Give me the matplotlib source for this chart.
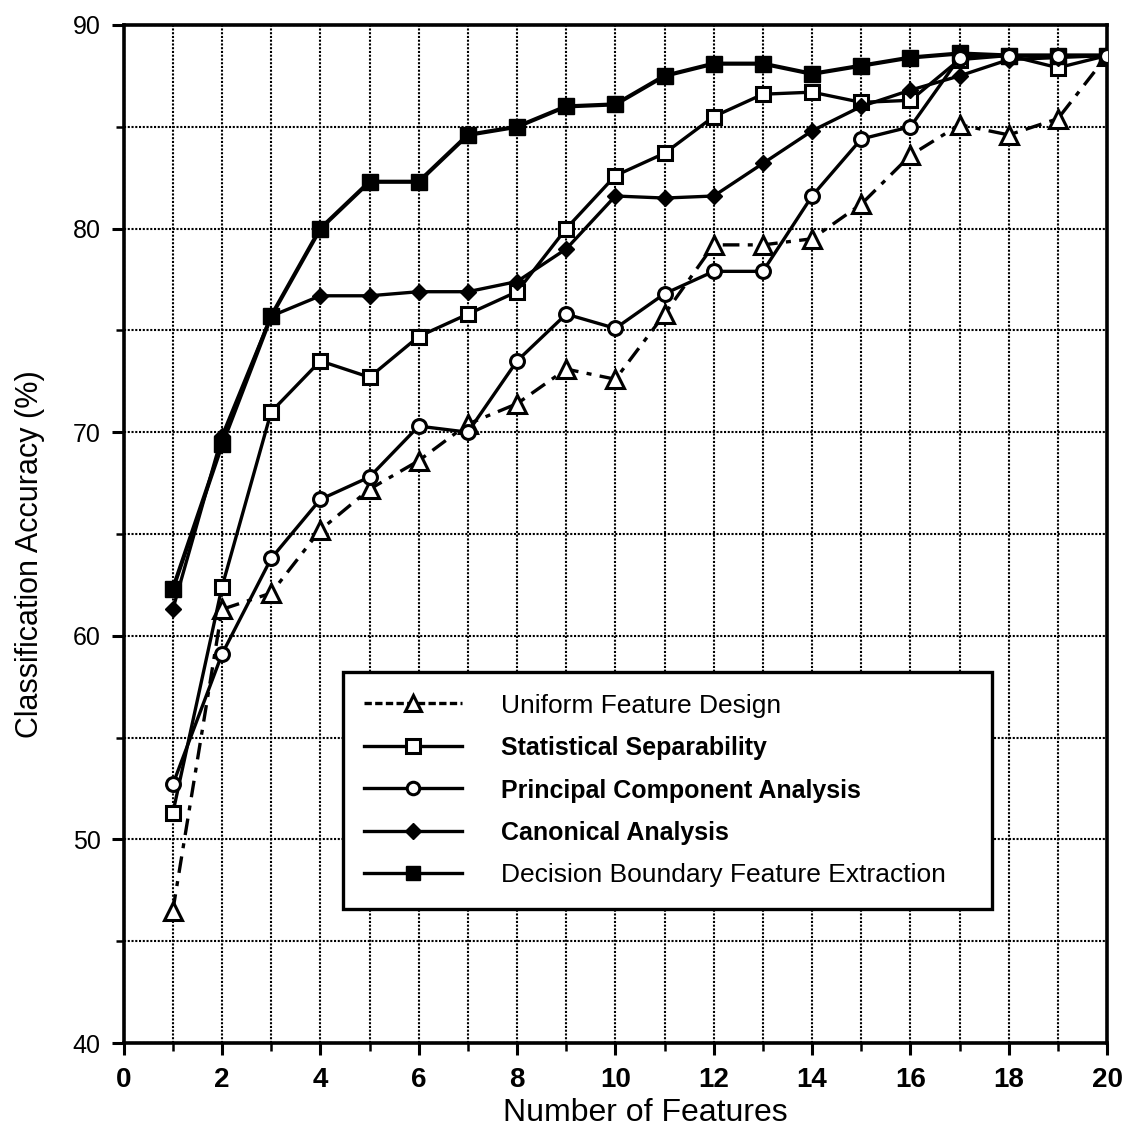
import matplotlib
matplotlib.use("Agg")
import matplotlib.pyplot as plt
from matplotlib.lines import Line2D
from matplotlib.ticker import MultipleLocator

features = list(range(1, 21))
uniform = [46.5, 61.3, 62.1, 65.2, 67.2, 68.6, 70.4, 71.4, 73.1, 72.6,
           75.8, 79.2, 79.2, 79.5, 81.2, 83.6, 85.1, 84.6, 85.4, 88.5]
stat_sep = [51.3, 62.4, 71.0, 73.5, 72.7, 74.7, 75.8, 76.9, 80.0, 82.6,
            83.7, 85.5, 86.6, 86.7, 86.2, 86.3, 88.3, 88.5, 87.9, 88.5]
pca = [52.7, 59.1, 63.8, 66.7, 67.8, 70.3, 70.0, 73.5, 75.8, 75.1,
       76.8, 77.9, 77.9, 81.6, 84.4, 85.0, 88.4, 88.5, 88.5, 88.5]
canonical = [61.3, 69.8, 75.7, 76.7, 76.7, 76.9, 76.9, 77.4, 79.0, 81.6,
             81.5, 81.6, 83.2, 84.8, 86.0, 86.8, 87.5, 88.3, 88.4, 88.5]
dbfe = [62.3, 69.4, 75.7, 80.0, 82.3, 82.3, 84.6, 85.0, 86.0, 86.1,
        87.5, 88.1, 88.1, 87.6, 88.0, 88.4, 88.6, 88.5, 88.5, 88.5]

labels = ["Uniform Feature Design", "Statistical Separability",
          "Principal Component Analysis", "Canonical Analysis",
          "Decision Boundary Feature Extraction"]
x_ticks = [0, 2, 4, 6, 8, 10, 12, 14, 16, 18, 20]
y_ticks = [40, 50, 60, 70, 80, 90]

plt.rcParams['font.family'] = ['Liberation Sans', 'DejaVu Sans']

fig = plt.figure(figsize=(11.24, 11.35), dpi=100)
ax = fig.add_axes([0.110, 0.081, 0.875, 0.897])

lw = 2.4
ax.plot(features, uniform, linestyle=(0, (5, 2.5, 1.5, 2.5)), color='black', lw=lw,
        marker='^', markersize=13, markerfacecolor='white', markeredgecolor='black',
        markeredgewidth=2.2, zorder=3)
ax.plot(features, stat_sep, '-', color='black', lw=lw,
        marker='s', markersize=10, markerfacecolor='white', markeredgecolor='black',
        markeredgewidth=2.2, zorder=4)
ax.plot(features, canonical, '-', color='black', lw=lw,
        marker='D', markersize=8, markerfacecolor='black', markeredgecolor='black', zorder=4)
ax.plot(features, dbfe, '-', color='black', lw=lw + 0.6,
        marker='s', markersize=12, markerfacecolor='black', markeredgecolor='black', zorder=4)
ax.plot(features, pca, '-', color='black', lw=lw,
        marker='o', markersize=10, markerfacecolor='white', markeredgecolor='black',
        markeredgewidth=2.2, zorder=5)

ax.set_xlim(0, 20)
ax.set_ylim(40, 90)
ax.set_xticks(x_ticks)
ax.set_yticks(y_ticks)
ax.xaxis.set_minor_locator(MultipleLocator(1))
ax.yaxis.set_minor_locator(MultipleLocator(5))
ax.grid(True, which='both', linestyle=(0, (1, 0.8)), color='black', lw=1.5, zorder=1)
ax.tick_params(which='major', direction='out', length=8.5, width=2.2)
ax.tick_params(axis='y', which='major', pad=8, labelsize=18)
ax.tick_params(axis='x', which='major', pad=9, labelsize=20)
ax.tick_params(which='minor', direction='out', length=6, width=1.8)
for lab in ax.get_xticklabels():
    lab.set_fontweight('bold')
for sp in ax.spines.values():
    sp.set_linewidth(2.6)

ax.set_xlabel("Number of Features", fontsize=23)
ax.xaxis.set_label_coords(0.53, -0.054)
ax.set_ylabel("Classification Accuracy (%)", fontsize=22)
ax.yaxis.set_label_coords(-0.08, 0.48)

handles = [
    Line2D([], [], linestyle=(0, (2.2, 1.0)), color='black', lw=2.4, marker='^', markersize=12,
           markerfacecolor='white', markeredgewidth=2.2),
    Line2D([], [], linestyle='-', color='black', lw=2.4, marker='s', markersize=10,
           markerfacecolor='white', markeredgewidth=2.2),
    Line2D([], [], linestyle='-', color='black', lw=2.4, marker='o', markersize=9,
           markerfacecolor='white', markeredgewidth=2.2),
    Line2D([], [], linestyle='-', color='black', lw=2.4, marker='D', markersize=8,
           markerfacecolor='black'),
    Line2D([], [], linestyle='-', color='black', lw=2.4, marker='s', markersize=10,
           markerfacecolor='black'),
]
leg = ax.legend(handles, labels, loc='upper left', bbox_to_anchor=(0.223, 0.135, 0.66, 0.229),
                mode='expand', fancybox=False, framealpha=1, edgecolor='black',
                prop={'size': 19}, handlelength=3.7, handletextpad=1.5,
                borderpad=0.8, labelspacing=0.7, borderaxespad=0)
leg.get_frame().set_linewidth(2.4)
leg.set_zorder(10)
texts = leg.get_texts()
for i in (1, 2, 3):
    texts[i].set_fontweight('bold')
    texts[i].set_fontsize(18)

fig.savefig("out.png", dpi=100)
